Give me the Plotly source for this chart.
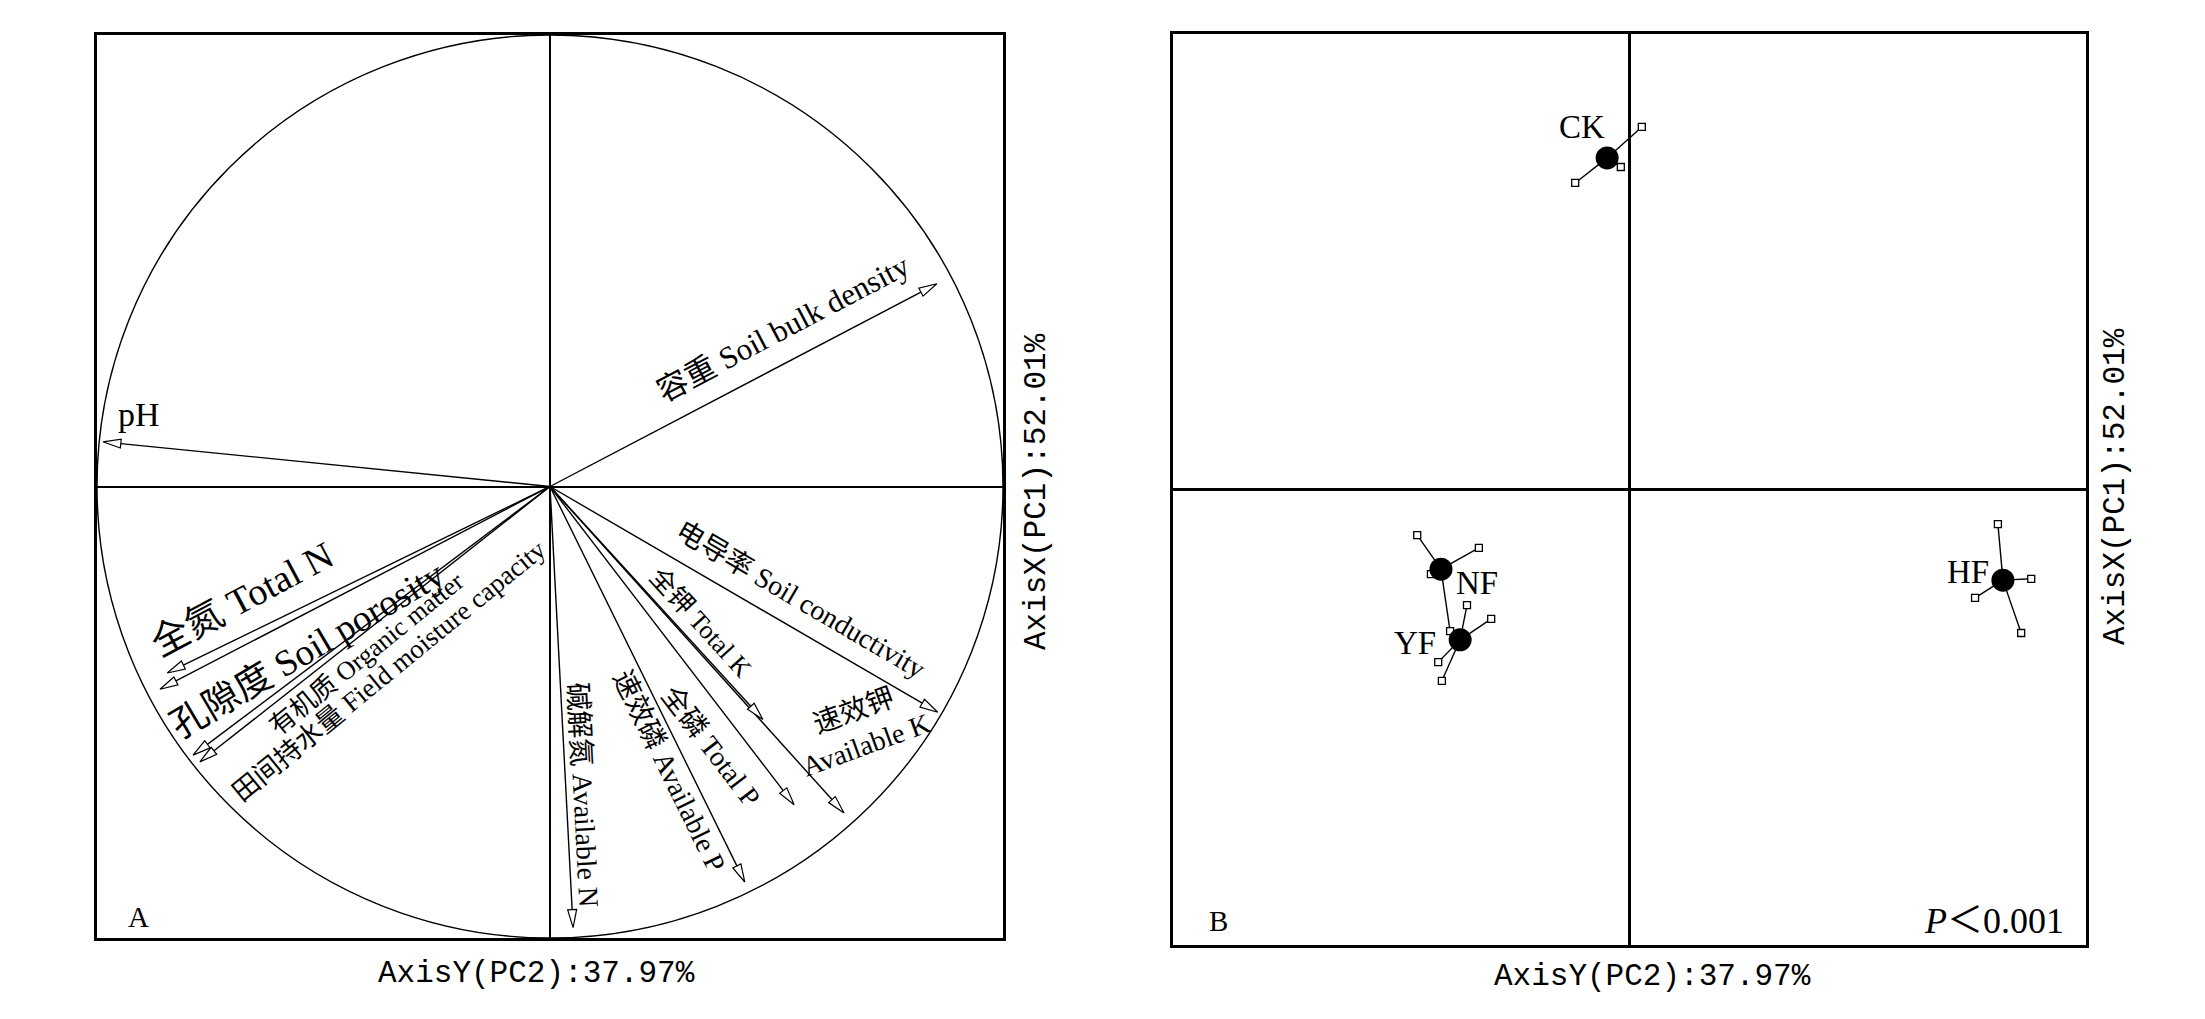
import numpy as np
import plotly.graph_objects as go

# ---------------- data ----------------
# Panel A: environmental vectors (x = PC2, y = PC1)
env_names = ["pH", "容重 Soil bulk density", "全氮 Total N", "孔隙度 Soil porosity",
             "有机质 Organic matter", "田间持水量 Field moisture capacity",
             "碱解氮 Available N", "速效磷 Available P", "全磷 Total P",
             "全钾 Total K", "速效钾<br>Available K", "电导率 Soil conductivity"]
env_x = [-0.987, 0.854, -0.845, -0.861, -0.788, -0.773, 0.051, 0.430, 0.539, 0.470, 0.649, 0.856]
env_y = [0.099, 0.449, -0.413, -0.449, -0.595, -0.610, -0.977, -0.876, -0.705, -0.516, -0.723, -0.500]

# Panel B: sample scores
groups = ["CK", "NF", "YF", "HF"]
centroid_x = [-0.049, -0.413, -0.371, 0.818]
centroid_y = [0.728, -0.175, -0.330, -0.199]
ck_x = [0.027, -0.019, -0.119]
ck_y = [0.796, 0.708, 0.673]
nf_x = [-0.465, -0.330, -0.435, -0.393]
nf_y = [-0.100, -0.128, -0.186, -0.311]
yf_x = [-0.356, -0.303, -0.419, -0.411]
yf_y = [-0.254, -0.284, -0.379, -0.420]
hf_x = [0.807, 0.880, 0.757, 0.858]
hf_y = [-0.076, -0.196, -0.238, -0.315]
rep_x = [ck_x, nf_x, yf_x, hf_x]
rep_y = [ck_y, nf_y, yf_y, hf_y]

x_title = "AxisY(PC2):37.97%"
y_title = "AxisX(PC1):52.01%"

# ---------------- layout / style ----------------
PAGE_OFF = 8                      # default body margin of the html page
W, H = 2205 - 2 * PAGE_OFF, 1019 - 2 * PAGE_OFF
SERIF = "Liberation Serif, 'Noto Sans CJK SC', serif"
MONO = "Liberation Mono, 'Noto Sans CJK SC', monospace"


def fx(px):
    return (px - PAGE_OFF) / W


def fy(py):
    return 1 - (py - PAGE_OFF) / H


domA_x = [fx(97), fx(1003)]
domA_y = [fy(938), fy(35)]
domB_x = [fx(1173), fx(2086)]
domB_y = [fy(945), fy(34)]
px_per_unit = (domA_x[1] - domA_x[0]) * W / 2.0

# label placement for panel A: (mode, a, b, font size, angle / angle tweak)
# "along": a = fraction along arrow, b = perpendicular offset px (left side positive),
#          last value = extra rotation (deg) added to the arrow angle
# "tip": a, b = pixel shift from tip, last value = absolute angle
label_place = {
    "pH": ("tip", 36, 27, 34, 0),
    "容重 Soil bulk density": ("along", 0.64, 32, 31, 0),
    "全氮 Total N": ("along", 0.765, -34, 38, -2),
    "孔隙度 Soil porosity": ("along", 0.66, 33, 37, -3),
    "有机质 Organic matter": ("along", 0.552, 23, 26, -2),
    "田间持水量 Field moisture capacity": ("along", 0.54, 45, 27, -1),
    "碱解氮 Available N": ("along", 0.70, 17, 28, 0),
    "速效磷 Available P": ("along", 0.698, -19, 28, 0),
    "全磷 Total P": ("along", 0.758, -30, 28, 0),
    "全钾 Total K": ("along", 0.639, 19, 26, 0),
    "速效钾<br>Available K": ("tip", 16, 85, 28, -20),
    "电导率 Soil conductivity": ("along", 0.609, 28, 28, 0),
}
group_label_shift = {"CK": (-25, 31), "NF": (36, -14), "YF": (-45, -3), "HF": (-35, 8)}

fig = go.Figure()

# unit circle
fig.add_shape(type="circle", xref="x", yref="y", x0=-1, y0=-1, x1=1, y1=1,
              line=dict(color="black", width=1.4), layer="below")

# arrows
head_len = 18 / px_per_unit
head_hw = 4.5 / px_per_unit
shaft_x, shaft_y, head_x, head_y = [], [], [], []
annotations = []
for name, ex, ey in zip(env_names, env_x, env_y):
    L = np.hypot(ex, ey)
    ux, uy = ex / L, ey / L
    nx, ny = -uy, ux
    bx, by = ex - ux * head_len, ey - uy * head_len
    shaft_x += [0, bx, None]
    shaft_y += [0, by, None]
    head_x += [ex, bx + nx * head_hw, bx - nx * head_hw, ex, None]
    head_y += [ey, by + ny * head_hw, by - ny * head_hw, ey, None]

    mode, a, b, fs, ang = label_place[name]
    if mode == "along":
        px, py = ex * a, ey * a
        xs, ys = b * nx, b * ny
        base = -np.degrees(np.arctan2(uy, ux))
        if base > 90:
            base -= 180
        elif base < -90:
            base += 180
        ang = base + ang
    else:
        px, py = ex, ey
        xs, ys = a, b
    annotations.append(dict(x=px, y=py, xref="x", yref="y", text=name, showarrow=False,
                            xshift=xs, yshift=ys, textangle=ang,
                            xanchor="center", yanchor="middle",
                            font=dict(family=SERIF, size=fs, color="black")))

fig.add_trace(go.Scatter(x=shaft_x, y=shaft_y, mode="lines", xaxis="x", yaxis="y",
                         line=dict(color="black", width=1.4), hoverinfo="skip"))
fig.add_trace(go.Scatter(x=head_x, y=head_y, mode="lines", fill="toself", fillcolor="white",
                         xaxis="x", yaxis="y", line=dict(color="black", width=1.2),
                         hoverinfo="skip"))

# panel B spokes
sp_x, sp_y, sq_x, sq_y = [], [], [], []
for g, cx, cy, rx, ry in zip(groups, centroid_x, centroid_y, rep_x, rep_y):
    for x, y in zip(rx, ry):
        sp_x += [cx, x, None]
        sp_y += [cy, y, None]
        sq_x.append(x)
        sq_y.append(y)
    sx, sy = group_label_shift[g]
    annotations.append(dict(x=cx, y=cy, xref="x2", yref="y2", text=g, showarrow=False,
                            xshift=sx, yshift=sy, xanchor="center", yanchor="middle",
                            font=dict(family=SERIF, size=33, color="black")))

fig.add_trace(go.Scatter(x=sp_x, y=sp_y, mode="lines", xaxis="x2", yaxis="y2",
                         line=dict(color="black", width=1.4), hoverinfo="skip"))
fig.add_trace(go.Scatter(x=sq_x, y=sq_y, mode="markers", xaxis="x2", yaxis="y2",
                         marker=dict(symbol="square", size=7, color="white",
                                     line=dict(color="black", width=1.3))))
fig.add_trace(go.Scatter(x=centroid_x, y=centroid_y, mode="markers", xaxis="x2", yaxis="y2",
                         marker=dict(symbol="circle", size=23, color="black")))


# axis titles and panel texts
def ptext(px, py, text, size, family=MONO, angle=0, xanchor="center"):
    annotations.append(dict(x=fx(px), y=fy(py), xref="paper", yref="paper", text=text,
                            showarrow=False, textangle=angle, xanchor=xanchor, yanchor="middle",
                            font=dict(family=family, size=size, color="black")))


ptext(536, 973, x_title, 31)
ptext(1652, 976, x_title, 31)
ptext(1036, 492, y_title, 31, angle=-90)
ptext(2116, 487, y_title, 31, angle=-90)
ptext(138, 917, "A", 29, family=SERIF)
ptext(1218, 921, "B", 29, family=SERIF)
ptext(2066, 921, "<i>P</i>＜0.001", 36, family=SERIF, xanchor="right")

ax_common = dict(range=[-1, 1], showgrid=False, showticklabels=False, ticks="",
                 showline=True, mirror=True, linecolor="black", linewidth=3,
                 zeroline=True, zerolinecolor="black", fixedrange=True)

fig.update_layout(
    width=W, height=H, margin=dict(l=0, r=0, t=0, b=0),
    paper_bgcolor="white", plot_bgcolor="white", showlegend=False,
    xaxis=dict(domain=domA_x, anchor="y", zerolinewidth=1.8, **ax_common),
    yaxis=dict(domain=domA_y, anchor="x", zerolinewidth=1.8, **ax_common),
    xaxis2=dict(domain=domB_x, anchor="y2", zerolinewidth=3, **ax_common),
    yaxis2=dict(domain=domB_y, anchor="x2", zerolinewidth=3, **ax_common),
    annotations=annotations,
)

fig.write_html("out.html")
